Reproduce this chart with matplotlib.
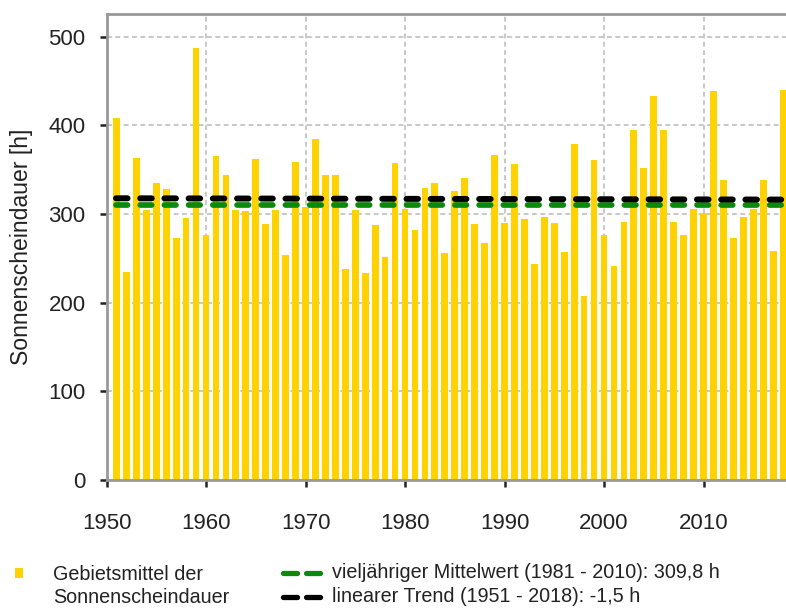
import matplotlib
matplotlib.use("Agg")
import matplotlib.pyplot as plt
from matplotlib.lines import Line2D
from matplotlib.patches import Rectangle

plt.rcParams['font.family'] = ['Liberation Sans', 'DejaVu Sans']
plt.rcParams['lines.scale_dashes'] = False

# Annual area mean of sunshine duration (hours)
years = list(range(1951, 2019))
sunshine = [
    408, 235, 363, 305, 335, 328, 273, 296, 487, 276,   # 1951-1960
    365, 344, 305, 303, 362, 289, 304, 254, 359, 308,   # 1961-1970
    384, 344, 344, 238, 305, 233, 288, 251, 358, 306,   # 1971-1980
    282, 329, 335, 256, 326, 340, 289, 267, 367, 290,   # 1981-1990
    356, 294, 244, 297, 290, 257, 379, 208, 361, 276,   # 1991-2000
    241, 291, 395, 352, 433, 395, 291, 276, 306, 301,   # 2001-2010
    439, 338, 273, 297, 306, 338, 258, 440,             # 2011-2018
]
mean_value = 309.8          # long-term mean 1981-2010
trend_start = 317.7         # linear trend value in 1951
trend_change = -1.5         # change of the linear trend 1951-2018

xticks = [1950, 1960, 1970, 1980, 1990, 2000, 2010]
yticks = [0, 100, 200, 300, 400, 500]

label_bars = "Gebietsmittel der\nSonnenscheindauer"
label_mean = "vieljähriger Mittelwert (1981 - 2010): 309,8 h"
label_trend = "linearer Trend (1951 - 2018): -1,5 h"

W, H = 786, 608
fig = plt.figure(figsize=(W / 100, H / 100), dpi=100)


def fx(px):
    return px / W


def fy(py):
    return (H - py) / H


left, right, top, bottom = 106.5, 786, 13.5, 480.1
ax = fig.add_axes([fx(left), fy(bottom), fx(right - left), (bottom - top) / H])

bar_color = '#FFD200'
ax.bar(years, sunshine, width=0.68, color=bar_color, zorder=2)

# long-term mean and linear trend as thick dashed lines (run on past the right edge)
x0, x1 = years[0] - 0.045, years[-1] + 1.5
span = years[-1] - years[0]
trend_end = trend_start + trend_change * (x1 - years[0]) / span
dash = (8.3, 9.13)
ax.plot([x0, x1], [mean_value, mean_value], color='#0a8a0a', lw=4.1,
        dashes=dash, dash_capstyle='round', zorder=3)
ax.plot([x0, x1], [trend_start, trend_end], color='black', lw=4.3,
        dashes=dash, dash_capstyle='round', zorder=4)

ax.set_xlim(1950, 1950 + (right - left) / 9.95)
ax.set_ylim(0, 526)
ax.set_xticks(xticks)
ax.set_yticks(yticks)
ax.tick_params(axis='both', labelsize=16, colors='#222222', width=1.8, length=5)
ax.tick_params(axis='y', pad=10)
ax.tick_params(axis='x', pad=19)
ax.set_ylabel("Sonnenscheindauer [h]", fontsize=16.6, color='#222222', labelpad=11)

ax.grid(True, color='#c4c4c4', lw=1.3, dashes=(3.5, 2.5), zorder=1)
ax.set_axisbelow(True)
for side in ('left', 'top', 'bottom'):
    ax.spines[side].set_color('#999999')
    ax.spines[side].set_linewidth(2)
ax.spines['right'].set_visible(False)

# legend below the plot
fig.add_artist(Rectangle((fx(15), fy(578)), fx(8), 10 / H, transform=fig.transFigure,
                         color=bar_color, lw=0))
fig.text(fx(53), fy(586), label_bars, fontsize=14.2, color='#222222',
         va='center', ha='left', linespacing=1.25)
for yy, col, lab in ((573, '#0a8a0a', label_mean), (597, 'black', label_trend)):
    fig.add_artist(Line2D([fx(282.5), fx(319.5)], [fy(yy), fy(yy)], transform=fig.transFigure,
                          color=col, lw=3.8, dashes=(10.1, 6.5), dash_capstyle='round'))
    fig.text(fx(332), fy(yy), lab, fontsize=14.2, color='#222222', va='center', ha='left')

fig.savefig("out.png", dpi=100)
